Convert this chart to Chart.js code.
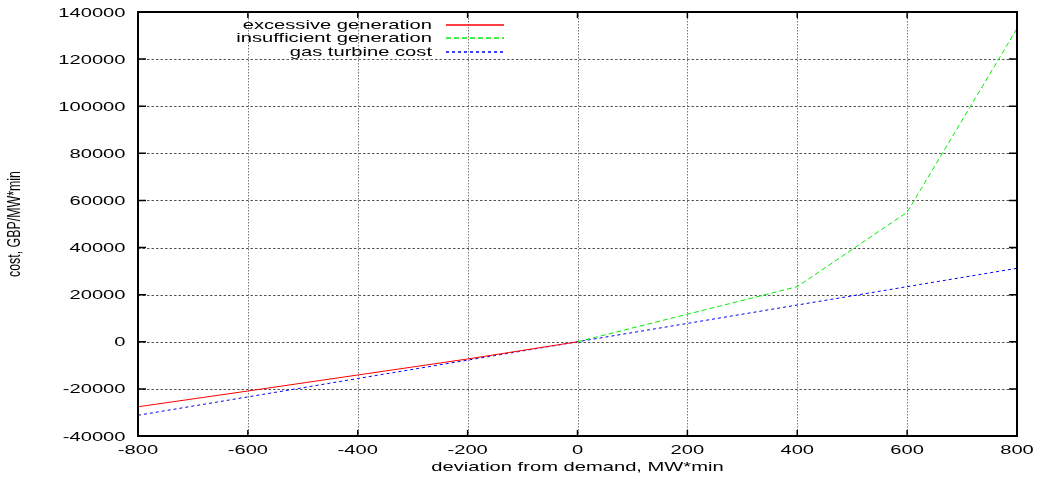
<!DOCTYPE html>
<html>
<head>
<meta charset="utf-8">
<script src="https://cdn.jsdelivr.net/npm/chart.js@4/dist/chart.umd.min.js"></script>
<style>
  html, body { margin: 0; padding: 0; background: #fff; }
  #wrap { width: 1043px; height: 479px; }
</style>
</head>
<body>
<div id="wrap"><canvas id="c" width="1043" height="479"></canvas></div>
<script>
// Cost curves vs. deviation from demand (MW*min)
const excessiveDev  = [-800, -600, -400, -200, 0];
const excessiveCost = [-27600, -20900, -14100, -7300, 0];

const insufficientDev  = [0, 200, 400, 600, 800];
const insufficientCost = [0, 11700, 23400, 55000, 133000];

const turbineDev  = [-800, -600, -400, -200, 0, 200, 400, 600, 800];
const turbineCost = [-31200, -23400, -15600, -7800, 0, 7800, 15600, 23400, 31200];

const xTickLabels = ['-800', '-600', '-400', '-200', '0', '200', '400', '600', '800'];
const yTickLabels = ['-40000', '-20000', '0', '20000', '40000', '60000', '80000',
                     '100000', '120000', '140000'];

const seriesNames  = ['excessive generation', 'insufficient generation', 'gas turbine cost'];
const seriesColors = ['#ff0000', '#00ee00', '#0000ff'];
const seriesDashes = [[], [5, 3], [3, 3]];
const xTitle = 'deviation from demand, MW*min';
const yTitle = 'cost, GBP/MW*min';

const toPoints = (xs, ys) => xs.map((x, i) => ({ x: x, y: ys[i] }));

const FONT = '"Liberation Sans", Arial, Helvetica, sans-serif';
const STRETCH = 1.55;

function stretchedText(ctx, str, x, y, align, size) {
  ctx.save();
  ctx.font = size + 'px ' + FONT;
  ctx.translate(x, y);
  ctx.scale(STRETCH, 1);
  ctx.textAlign = align;
  ctx.textBaseline = 'middle';
  ctx.fillStyle = '#000';
  ctx.fillText(str, 0, 0);
  ctx.restore();
}

const frame = {
  id: 'frame',
  beforeDatasetsDraw(chart) {
    const { ctx, chartArea: a, scales: { x, y } } = chart;
    ctx.save();
    ctx.lineWidth = 1;
    ctx.strokeStyle = '#555';
    // horizontal grid
    ctx.setLineDash([2.5, 2]);
    yTickLabels.map(Number).forEach(v => {
      if (v === y.min || v === y.max) return;
      const py = Math.round(y.getPixelForValue(v)) + 0.5;
      ctx.beginPath(); ctx.moveTo(a.left, py); ctx.lineTo(a.right, py); ctx.stroke();
    });
    // vertical grid
    ctx.strokeStyle = '#777';
    ctx.setLineDash([1.5, 1.5]);
    xTickLabels.map(Number).forEach(v => {
      if (v === x.min || v === x.max) return;
      const px = Math.round(x.getPixelForValue(v)) + 0.5;
      ctx.beginPath(); ctx.moveTo(px, a.top); ctx.lineTo(px, a.bottom); ctx.stroke();
    });
    ctx.restore();
  },
  afterDatasetsDraw(chart) {
    const { ctx, chartArea: a, scales: { x, y } } = chart;
    ctx.save();
    // border
    ctx.setLineDash([]);
    ctx.strokeStyle = '#000';
    ctx.lineWidth = 2;
    ctx.strokeRect(a.left, a.top, a.right - a.left, a.bottom - a.top);
    // inward tick marks on all four sides
    ctx.lineWidth = 1.5;
    yTickLabels.map(Number).forEach(v => {
      const py = y.getPixelForValue(v);
      ctx.beginPath();
      ctx.moveTo(a.left, py); ctx.lineTo(a.left + 8, py);
      ctx.moveTo(a.right, py); ctx.lineTo(a.right - 8, py);
      ctx.stroke();
    });
    xTickLabels.map(Number).forEach(v => {
      const px = x.getPixelForValue(v);
      ctx.beginPath();
      ctx.moveTo(px, a.bottom); ctx.lineTo(px, a.bottom - 6);
      ctx.moveTo(px, a.top); ctx.lineTo(px, a.top + 6);
      ctx.stroke();
    });
    ctx.restore();

    // tick labels
    yTickLabels.forEach(t => {
      stretchedText(ctx, t, a.left - 12.5, y.getPixelForValue(Number(t)) + 1, 'right', 13);
    });
    xTickLabels.forEach(t => {
      stretchedText(ctx, t, x.getPixelForValue(Number(t)), a.bottom + 14, 'center', 13);
    });

    // axis titles
    stretchedText(ctx, xTitle, (a.left + a.right) / 2, 467, 'center', 13);
    ctx.save();
    ctx.font = '12.4px ' + FONT;
    ctx.translate(15, 224);
    ctx.scale(STRETCH, 1);
    ctx.rotate(-Math.PI / 2);
    ctx.textAlign = 'center';
    ctx.textBaseline = 'middle';
    ctx.fillStyle = '#000';
    ctx.fillText(yTitle, 0, 0);
    ctx.restore();

    // key
    chart.data.datasets.forEach((ds, i) => {
      const ly = 25 + i * 13.4;
      stretchedText(ctx, ds.label, 432, ly + 0.5, 'right', 13);
      ctx.save();
      ctx.strokeStyle = seriesColors[i];
      ctx.lineWidth = 1.4;
      ctx.setLineDash(seriesDashes[i]);
      ctx.beginPath();
      ctx.moveTo(446, Math.round(ly));
      ctx.lineTo(504, Math.round(ly));
      ctx.stroke();
      ctx.restore();
    });
  }
};

new Chart(document.getElementById('c').getContext('2d'), {
  type: 'line',
  data: {
    datasets: [
      { label: seriesNames[0], data: toPoints(excessiveDev, excessiveCost),
        borderColor: seriesColors[0], borderWidth: 1, borderDash: seriesDashes[0] },
      { label: seriesNames[1], data: toPoints(insufficientDev, insufficientCost),
        borderColor: seriesColors[1], borderWidth: 1, borderDash: seriesDashes[1] },
      { label: seriesNames[2], data: toPoints(turbineDev, turbineCost),
        borderColor: seriesColors[2], borderWidth: 1, borderDash: seriesDashes[2] }
    ]
  },
  options: {
    responsive: false,
    animation: false,
    devicePixelRatio: 1,
    layout: { padding: { left: 138, right: 26, top: 12, bottom: 43 } },
    elements: { point: { radius: 0 }, line: { tension: 0, fill: false } },
    plugins: { legend: { display: false }, tooltip: { enabled: false } },
    scales: {
      x: { type: 'linear', min: -800, max: 800, display: false },
      y: { type: 'linear', min: -40000, max: 140000, display: false }
    }
  },
  plugins: [frame]
});
</script>
</body>
</html>
